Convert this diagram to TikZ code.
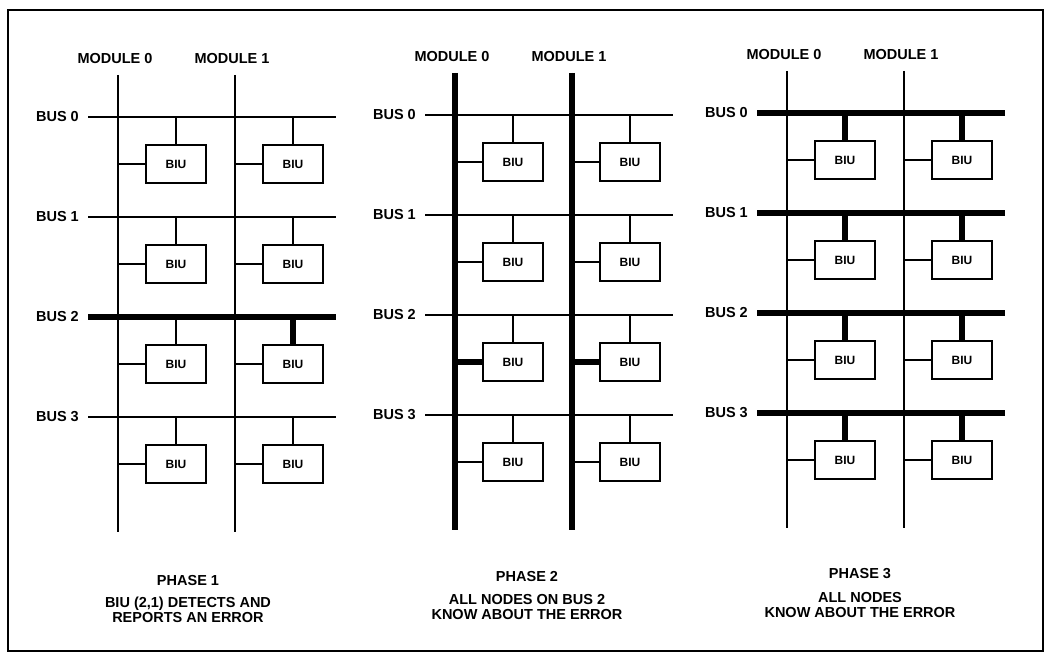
\documentclass[tikz,border=0pt]{standalone}
\usepackage{fontspec}
\setmainfont{Liberation Sans}
\begin{document}
\begin{tikzpicture}[x=1pt,y=-1pt,
  thinline/.style={line width=1.2pt},
  thickline/.style={line width=5.5pt},
  biu/.style={draw, line width=1.2pt, minimum width=60pt, minimum height=38pt, inner sep=0pt, font=\fontsize{12}{12}\selectfont\bfseries},
  lbl/.style={font=\fontsize{14.5}{14}\selectfont\bfseries, inner sep=0pt},
  caption/.style={font=\fontsize{14.5}{14.5}\selectfont\bfseries, align=center, inner sep=0pt}]
\fill[white] (0,0) rectangle (1047,663);
\useasboundingbox (0,0) rectangle (1047,663);
\draw[line width=2pt] (8,10) rectangle (1043,651);

\foreach \p/\mx/\by in {1/118/117, 2/455/115, 3/787/113}{
  \foreach \m in {0,1}{
    \coordinate (p\p m\m top) at (\mx+117*\m, \by-42);
    \coordinate (p\p m\m bot) at (\mx+117*\m, \by+415);
    \draw[thinline] (p\p m\m top) -- (p\p m\m bot);
    \node[lbl] (p\p mod\m) at (\mx+117*\m-3, \by-58) {MODULE \m};
  }
  \foreach \r in {0,1,2,3}{
    \coordinate (p\p b\r L) at (\mx-30, \by+100*\r);
    \coordinate (p\p b\r R) at (\mx+218, \by+100*\r);
    \draw[thinline] (p\p b\r L) -- (p\p b\r R);
    \node[lbl, anchor=east] (p\p bus\r) at (\mx-39, \by+100*\r) {BUS \r};
    \foreach \m in {0,1}{
      \node[biu] (p\p r\r m\m) at (\mx+117*\m+58, \by+100*\r+47) {BIU};
      \draw[thinline] (p\p r\r m\m.north) -- (p\p r\r m\m.north |- p\p b\r L);
      \draw[thinline] (p\p r\r m\m.west) -- (p\p r\r m\m.west -| p\p m\m top);
    }
  }
}

% Phase 1 emphasis
\draw[thickline] (p1b2L) -- (p1b2R);
\draw[thickline] (p1r2m1.north) -- (p1r2m1.north |- p1b2L);
% Phase 2 emphasis
\draw[thickline] (p2m0top) -- (p2m0bot);
\draw[thickline] (p2m1top) -- (p2m1bot);
\draw[thickline] (p2r2m0.west) -- (p2r2m0.west -| p2m0top);
\draw[thickline] (p2r2m1.west) -- (p2r2m1.west -| p2m1top);
% Phase 3 emphasis
\foreach \r in {0,1,2,3}{
  \draw[thickline] (p3b\r L) -- (p3b\r R);
  \foreach \m in {0,1}{
    \draw[thickline] (p3r\r m\m.north) -- (p3r\r m\m.north |- p3b\r L);
  }
}

% Captions
\node[caption] (ph1) at (188,581) {PHASE 1};
\node[caption] (d1) at (188,610) {BIU (2,1) DETECTS AND\\REPORTS AN ERROR};
\node[caption] (ph2) at (527,577) {PHASE 2};
\node[caption] (d2) at (527,607) {ALL NODES ON BUS 2\\KNOW ABOUT THE ERROR};
\node[caption] (ph3) at (860,574) {PHASE 3};
\node[caption] (d3) at (860,605) {ALL NODES\\KNOW ABOUT THE ERROR};
\end{tikzpicture}
\end{document}
